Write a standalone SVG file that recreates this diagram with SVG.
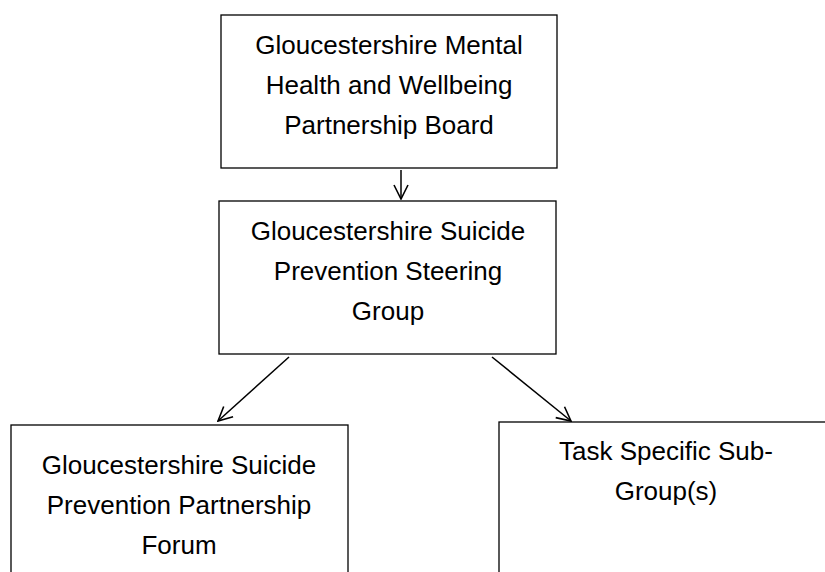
<svg xmlns="http://www.w3.org/2000/svg" width="825" height="572" viewBox="0 0 825 572">
<style>
.box{fill:#fff;stroke:#000;stroke-width:1.3}
.t{font-family:"Liberation Sans",Arial,sans-serif;font-size:26px;fill:#000;text-anchor:middle}
.c{stroke:#000;stroke-width:1.5;fill:none}
</style>
<defs>
<marker id="ah" viewBox="0 0 16 16" refX="15" refY="8" markerWidth="16" markerHeight="16" markerUnits="userSpaceOnUse" orient="auto">
<path d="M1,1 L15,8 L1,15" fill="none" stroke="#000" stroke-width="1.6"/>
</marker>
</defs>
<rect width="825" height="572" fill="#fff"/>
<g id="connectors">
<line class="c" x1="401" y1="170" x2="401" y2="199" marker-end="url(#ah)"/>
<line class="c" x1="289" y1="357" x2="218" y2="421" marker-end="url(#ah)"/>
<line class="c" x1="492" y1="357" x2="571" y2="421" marker-end="url(#ah)"/>
</g>
<g id="board">
<rect class="box" x="221" y="15" width="336" height="153"/>
<text class="t" x="389" y="54">Gloucestershire Mental</text>
<text class="t" x="389" y="94">Health and Wellbeing</text>
<text class="t" x="389" y="134">Partnership Board</text>
</g>
<g id="steering">
<rect class="box" x="219" y="201" width="337" height="153"/>
<text class="t" x="388" y="240">Gloucestershire Suicide</text>
<text class="t" x="388" y="280">Prevention Steering</text>
<text class="t" x="388" y="320">Group</text>
</g>
<g id="forum">
<rect class="box" x="11" y="425" width="337" height="160"/>
<text class="t" x="179" y="474">Gloucestershire Suicide</text>
<text class="t" x="179" y="514">Prevention Partnership</text>
<text class="t" x="179" y="554">Forum</text>
</g>
<g id="subgroups">
<rect class="box" x="499" y="422" width="340" height="165"/>
<text class="t" x="666" y="460">Task Specific Sub-</text>
<text class="t" x="666" y="500">Group(s)</text>
</g>
</svg>
